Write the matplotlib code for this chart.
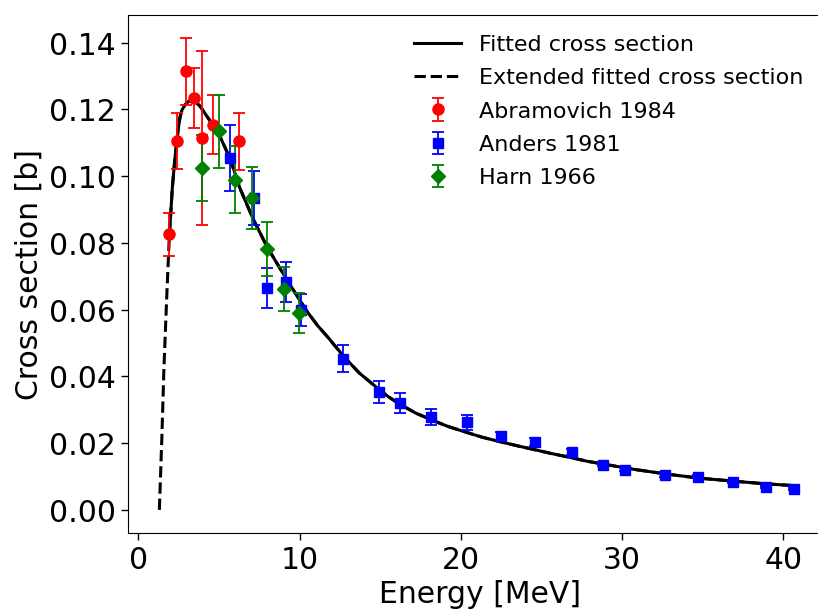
import matplotlib
matplotlib.use("Agg")
import matplotlib.pyplot as plt
import numpy as np

# Fitted curve
curve_energy = [1.30, 1.45, 1.58, 1.75, 1.92, 2.11, 2.25, 2.38, 2.48, 2.59, 2.70, 2.90, 3.05,
                3.27, 3.55, 3.83, 4.35, 4.97, 5.69, 6.31, 7.14, 7.97, 9.21, 10.45, 11.1,
                11.79, 12.73, 13.7, 14.8, 15.5, 16.24, 17.2, 18.31, 19.2, 20.17, 21.3, 22.45,
                23.5, 24.52, 25.6, 26.8, 27.8, 28.86, 30.8, 32.8, 34.8, 36.93, 38.9, 40.9]
curve_sigma = [0.0, 0.021, 0.042, 0.063, 0.0822, 0.0969, 0.1045, 0.1104, 0.1145, 0.1179,
               0.1198, 0.1214, 0.1222, 0.1226, 0.1222, 0.1209, 0.1172, 0.1128, 0.1052,
               0.0962, 0.0869, 0.0789, 0.0689, 0.0595, 0.0553, 0.0515, 0.0460, 0.0410,
               0.0366, 0.0339, 0.0316, 0.0290, 0.0267, 0.0250, 0.0235, 0.0218, 0.0204,
               0.0192, 0.0181, 0.0169, 0.0157, 0.0146, 0.0137, 0.0121, 0.0107, 0.0095,
               0.0086, 0.0078, 0.0072]
solid_start_energy = 1.92

# Abramovich 1984
abr_energy = [1.92, 2.38, 2.94, 3.46, 3.94, 4.62, 6.21]
abr_sigma = [0.0826, 0.1104, 0.1314, 0.1234, 0.1114, 0.1154, 0.1104]
abr_err = [0.0064, 0.0084, 0.0100, 0.0089, 0.0260, 0.0089, 0.0086]

# Anders 1981
and_energy = [5.69, 7.14, 7.97, 9.17, 10.07, 12.69, 14.9, 16.2, 18.17, 20.38, 22.5, 24.58,
              26.9, 28.8, 30.21, 32.69, 34.7, 36.9, 38.9, 40.66]
and_sigma = [0.1054, 0.0934, 0.0665, 0.0684, 0.0600, 0.0453, 0.0353, 0.0320, 0.0278, 0.0262,
             0.0222, 0.0202, 0.0173, 0.0135, 0.0120, 0.0103, 0.0100, 0.0083, 0.0070, 0.0064]
and_err = [0.0100, 0.0080, 0.0060, 0.0060, 0.0048, 0.0040, 0.0033, 0.0030, 0.0025, 0.0022,
           0.0012, 0.0012, 0.0010, 0.0005, 0.0004, 0.0004, 0.0004, 0.0003, 0.0003, 0.0003]

# Harn 1966
harn_energy = [3.97, 4.97, 6.00, 7.04, 7.97, 9.00, 9.99]
harn_sigma = [0.1024, 0.1134, 0.0989, 0.0934, 0.0781, 0.0662, 0.0590]
harn_err = [0.0100, 0.0110, 0.0100, 0.0093, 0.0080, 0.0065, 0.0060]

fig = plt.figure(figsize=(8.185, 6.135), dpi=100)
ax = fig.add_axes([0.1561, 0.130, 0.860, 0.8455])
# the axes runs past the right edge of the figure (cropped like the reference)
ax.spines['right'].set_visible(False)

ce = np.array(curve_energy)
cs = np.array(curve_sigma)
mask = ce >= solid_start_energy
ax.plot(ce[mask], cs[mask], color='black', lw=2.2, label='Fitted cross section', zorder=3)
ax.plot(ce, cs, color='black', lw=2.2, ls='--', label='Extended fitted cross section', zorder=3)

ax.errorbar(abr_energy, abr_sigma, yerr=abr_err, fmt='o', color='red', ms=8,
            capsize=4.5, elinewidth=1.3, capthick=1.3, label='Abramovich 1984', zorder=4)
ax.errorbar(and_energy, and_sigma, yerr=and_err, fmt='s', color='blue', ms=7,
            capsize=4.5, elinewidth=1.3, capthick=1.3, label='Anders 1981', zorder=4)
ax.errorbar(harn_energy, harn_sigma, yerr=harn_err, fmt='D', color='green', ms=7,
            capsize=4.5, elinewidth=1.3, capthick=1.3, label='Harn 1966', zorder=4)

ax.set_xlim(-0.66, 43.0)
ax.set_ylim(-0.0070, 0.1484)
ax.set_xticks([0, 10, 20, 30, 40])
ax.set_yticks([0.0, 0.02, 0.04, 0.06, 0.08, 0.10, 0.12, 0.14])
ax.set_yticklabels(['0.00', '0.02', '0.04', '0.06', '0.08', '0.10', '0.12', '0.14'])
ax.tick_params(labelsize=21.5, length=5, width=1)
ax.set_xlabel('Energy [MeV]', fontsize=21.5, labelpad=4)
ax.set_ylabel('Cross section [b]', fontsize=21.5)

ax.legend(loc='upper right', frameon=False, fontsize=16, bbox_to_anchor=(0.988, 1.0),
          handlelength=2.1, labelspacing=0.6)

fig.savefig('out.png', dpi=100)
